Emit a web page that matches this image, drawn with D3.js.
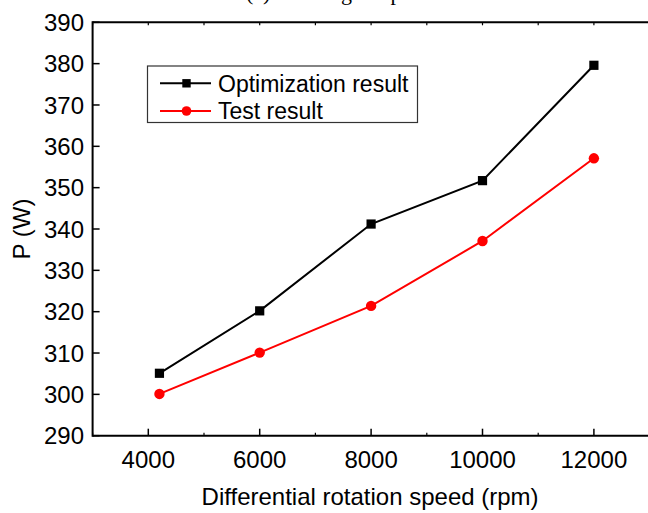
<!DOCTYPE html>
<html>
<head>
<meta charset="utf-8">
<script src="https://cdn.jsdelivr.net/npm/d3@7"></script>
<style>
  html, body { margin: 0; padding: 0; background: #fff; }
  svg { display: block; }
  text { font-family: Arial, "Liberation Sans", sans-serif; fill: #000; }
</style>
</head>
<body>
<script>
// ---- data ----
const speeds = [4200, 6000, 8000, 10000, 12000];
const optimization = [305.1, 320.2, 341.2, 351.7, 379.6];
const test = [300.1, 310.1, 321.4, 337.1, 357.1];
const seriesNames = ["Optimization result", "Test result"];
const xTicks = [4000, 6000, 8000, 10000, 12000];
const xMinorTicks = [3000, 5000, 7000, 9000, 11000, 13000];
const yTicks = [290, 300, 310, 320, 330, 340, 350, 360, 370, 380, 390];
const xTitle = "Differential rotation speed (rpm)";
const yTitle = "P (W)";
const topTitle = "(c) Working temperature";

const W = 648, H = 513;
const svg = d3.select("body").append("svg").attr("width", W).attr("height", H);

const x = d3.scaleLinear().domain([3000, 13000]).range([92.6, 649.6]);
const y = d3.scaleLinear().domain([290, 390]).range([435.7, 22.3]);

// caption cut off at the very top, as in the reference
svg.append("text")
  .attr("x", 246).attr("y", -0.5)
  .style("font-family", "'Liberation Serif', 'Times New Roman', serif")
  .style("font-size", "22px")
  .text(topTitle);

// frame lines
const axisColor = "#000";
svg.append("line").attr("x1", x(3000)).attr("x2", W + 2).attr("y1", y(290)).attr("y2", y(290))
  .attr("stroke", axisColor).attr("stroke-width", 2);
svg.append("line").attr("x1", x(3000)).attr("x2", W + 2).attr("y1", y(390)).attr("y2", y(390))
  .attr("stroke", axisColor).attr("stroke-width", 2);
svg.append("line").attr("x1", x(3000)).attr("x2", x(3000)).attr("y1", y(390) - 1).attr("y2", y(290) + 1)
  .attr("stroke", axisColor).attr("stroke-width", 2);

// bottom axis ticks and labels
const gx = svg.append("g");
gx.selectAll("line.major").data(xTicks).enter().append("line")
  .attr("x1", d => x(d)).attr("x2", d => x(d))
  .attr("y1", y(290)).attr("y2", y(290) - 7)
  .attr("stroke", axisColor).attr("stroke-width", 1.5);
gx.selectAll("line.minor").data(xMinorTicks).enter().append("line")
  .attr("x1", d => x(d)).attr("x2", d => x(d))
  .attr("y1", y(290)).attr("y2", y(290) - 3)
  .attr("stroke", axisColor).attr("stroke-width", 1.2);
gx.selectAll("text").data(xTicks).enter().append("text")
  .attr("x", d => x(d)).attr("y", y(290) + 32)
  .attr("text-anchor", "middle")
  .style("font-size", "24px")
  .text(d => d);

// top axis ticks
svg.append("g").selectAll("line").data(xTicks.concat(xMinorTicks)).enter().append("line")
  .attr("x1", d => x(d)).attr("x2", d => x(d))
  .attr("y1", y(390)).attr("y2", y(390) + 3)
  .attr("stroke", axisColor).attr("stroke-width", 1.2);

// left axis ticks and labels
const gy = svg.append("g");
gy.selectAll("line").data(yTicks).enter().append("line")
  .attr("x1", x(3000)).attr("x2", x(3000) + 7)
  .attr("y1", d => y(d)).attr("y2", d => y(d))
  .attr("stroke", axisColor).attr("stroke-width", 1.5);
gy.selectAll("text").data(yTicks).enter().append("text")
  .attr("x", 84).attr("y", d => y(d))
  .attr("dy", "0.36em")
  .attr("text-anchor", "end")
  .style("font-size", "24px")
  .text(d => d);

// axis titles
svg.append("text")
  .attr("x", (x(3000) + 649.6) / 2 - 1).attr("y", 505)
  .attr("text-anchor", "middle")
  .style("font-size", "24px")
  .text(xTitle);
svg.append("text")
  .attr("transform", `translate(30, ${y(340)}) rotate(-90)`)
  .attr("text-anchor", "middle")
  .style("font-size", "24px")
  .text(yTitle);

// series
const series = [
  { name: seriesNames[0], values: optimization, color: "#000", marker: "square" },
  { name: seriesNames[1], values: test, color: "#ff0000", marker: "circle" }
];
const line = d3.line().x(d => x(d[0])).y(d => y(d[1]));

series.forEach(s => {
  const pts = speeds.map((v, i) => [v, s.values[i]]);
  svg.append("path").datum(pts)
    .attr("d", line)
    .attr("fill", "none")
    .attr("stroke", s.color)
    .attr("stroke-width", 2);
  const g = svg.append("g");
  if (s.marker === "square") {
    g.selectAll("rect").data(pts).enter().append("rect")
      .attr("x", d => x(d[0]) - 4.6).attr("y", d => y(d[1]) - 4.6)
      .attr("width", 9.2).attr("height", 9.2)
      .attr("fill", s.color);
  } else {
    g.selectAll("circle").data(pts).enter().append("circle")
      .attr("cx", d => x(d[0])).attr("cy", d => y(d[1]))
      .attr("r", 5.2)
      .attr("fill", s.color);
  }
});

// legend
const lg = svg.append("g");
lg.append("rect")
  .attr("x", 147.5).attr("y", 66).attr("width", 270).attr("height", 56.5)
  .attr("fill", "#fff").attr("stroke", "#333").attr("stroke-width", 1.2);
series.forEach((s, i) => {
  const cy = 83.3 + i * 27.7;
  lg.append("line").attr("x1", 160).attr("x2", 211).attr("y1", cy).attr("y2", cy)
    .attr("stroke", s.color).attr("stroke-width", 2);
  if (s.marker === "square") {
    lg.append("rect").attr("x", 186.5 - 4.2).attr("y", cy - 4.2).attr("width", 8.4).attr("height", 8.4)
      .attr("fill", s.color);
  } else {
    lg.append("circle").attr("cx", 186.5).attr("cy", cy).attr("r", 4.8).attr("fill", s.color);
  }
  lg.append("text").attr("x", 218).attr("y", cy).attr("dy", "0.36em")
    .style("font-size", "23px")
    .text(s.name);
});
</script>
</body>
</html>
